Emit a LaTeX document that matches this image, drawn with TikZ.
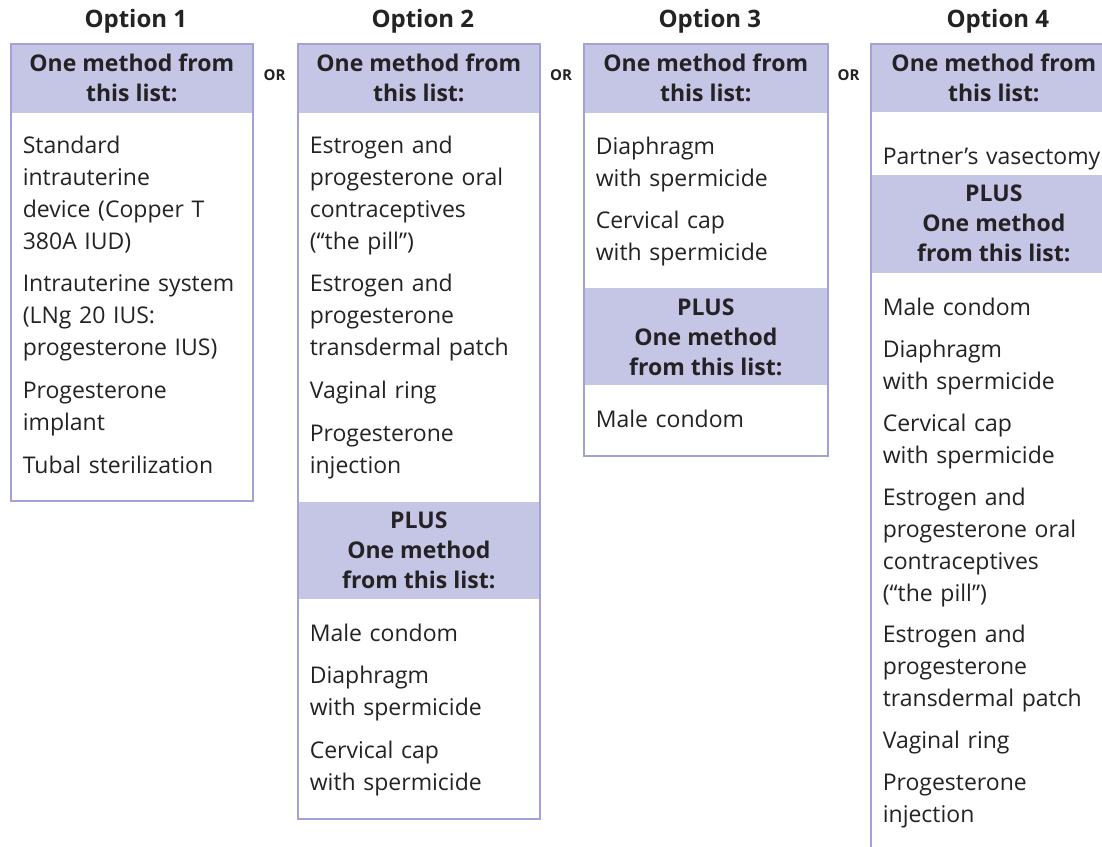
\documentclass[tikz,border=0pt]{standalone}
\usepackage{fontspec}
\setmainfont{Open Sans}
\usepackage{xcolor}
\usepackage{tikz}
\usetikzlibrary{positioning,backgrounds}
\definecolor{headfill}{RGB}{197,197,230}
\definecolor{boxline}{RGB}{162,162,214}
\definecolor{txt}{RGB}{36,34,36}
% fixed line struts for the list items
\newcommand{\itemstrut}{\rule[-9.6pt]{0pt}{32pt}}
\tikzset{%Global config
	x=1pt, y=1pt,
	%Styles
	Title/.style={
		font=\bfseries\fontsize{24}{28}\selectfont,
		text=txt,
		inner sep=0pt,
		xshift=4pt,
	},
	Or/.style={
		font=\bfseries\fontsize{15}{17}\selectfont,
		text=txt,
		inner sep=0pt,
	},
	Box/.style={
		draw=boxline,
		line width=1.6pt,
		anchor=north west,
		minimum width=242pt,
		inner sep=0pt,
	},
	Head/.style={
		fill=headfill,
		minimum width=242pt,
		align=center,
		font=\bfseries\fontsize{23}{30}\selectfont,
		text=txt,
		inner sep=0pt,
	},
	Item/.style={
		text width=228pt,
		align=left,
		font=\fontsize{23}{32}\selectfont,
		text=txt,
		inner sep=0pt,
		execute at begin node=\itemstrut,
		execute at end node=\itemstrut,
	},
}
\begin{document}
\begin{tikzpicture}
		\clip (0,0) rectangle (1102,-846);
		\begin{scope}[on background layer]
			\fill[white] (0,0) rectangle (1102,-846);
		\end{scope}
		% Boxes
		\node[Box, minimum height=457pt] (box1) at (10,-43) {};
		\node[Box, minimum height=775pt] (box2) at (297,-43) {};
		\node[Box, minimum width=244pt, minimum height=412pt] (box3) at (583,-43) {};
		\node[Box, minimum width=246pt, minimum height=830pt] (box4) at (870,-43) {};
		
		% Titles and OR
		\node[Title, above=10pt of box1.north] (t1) {Option 1};
		\node[Title, above=10pt of box2.north] (t2) {Option 2};
		\node[Title, above=10pt of box3.north] (t3) {Option 3};
		\node[Title, above=10pt of box4.north] (t4) {Option 4};
		\node[Or] (or1) at (274.5,-75) {OR};
		\node[Or] (or2) at (561,-75) {OR};
		\node[Or] (or3) at (848.5,-75) {OR};
		
		% Option 1
		\begin{scope}[on background layer]
			\node[Head, anchor=north, minimum height=70pt] (h1) at (box1.north) {One method from\\this list:};
		\end{scope}
		\node[Item, below right=17pt and 12pt of h1.south west] (i11) {Standard\\intrauterine\\device (Copper T\\380A IUD)};
		\node[Item, below right=10.5pt and 0pt of i11.south west] (i12) {Intrauterine system\\(LNg 20 IUS:\\progesterone IUS)};
		\node[Item, below right=10.5pt and 0pt of i12.south west] (i13) {Progesterone\\implant};
		\node[Item, below right=10.5pt and 0pt of i13.south west] (i14) {Tubal sterilization};
		
		% Option 2
		\begin{scope}[on background layer]
			\node[Head, anchor=north, minimum height=70pt] (h2) at (box2.north) {One method from\\this list:};
		\end{scope}
		\node[Item, below right=17pt and 12pt of h2.south west] (i21) {Estrogen and\\progesterone oral\\contraceptives\\(“the pill”)};
		\node[Item, below right=10.5pt and 0pt of i21.south west] (i22) {Estrogen and\\progesterone\\transdermal patch};
		\node[Item, below right=10.5pt and 0pt of i22.south west] (i23) {Vaginal ring};
		\node[Item, below right=10.5pt and 0pt of i23.south west] (i24) {Progesterone\\injection};
		\begin{scope}[on background layer]
			\node[Head, below right=18.5pt and -12pt of i24.south west, minimum height=97pt] (p2) {PLUS\\One method\\from this list:};
		\end{scope}
		\node[Item, below right=19pt and 12pt of p2.south west] (i25) {Male condom};
		\node[Item, below right=10.5pt and 0pt of i25.south west] (i26) {Diaphragm\\with spermicide};
		\node[Item, below right=10.5pt and 0pt of i26.south west] (i27) {Cervical cap\\with spermicide};
		
		% Option 3
		\begin{scope}[on background layer]
			\node[Head, anchor=north, minimum width=244pt, minimum height=70pt] (h3) at (box3.north) {One method from\\this list:};
		\end{scope}
		\node[Item, below right=18pt and 12pt of h3.south west] (i31) {Diaphragm\\with spermicide};
		\node[Item, below right=10.5pt and 0pt of i31.south west] (i32) {Cervical cap\\with spermicide};
		\begin{scope}[on background layer]
			\node[Head, below right=17.5pt and -12pt of i32.south west, minimum width=244pt, minimum height=97pt] (p3) {PLUS\\One method\\from this list:};
		\end{scope}
		\node[Item, below right=19pt and 12pt of p3.south west] (i33) {Male condom};
		
		% Option 4
		\begin{scope}[on background layer]
			\node[Head, anchor=north, minimum width=246pt, minimum height=69pt] (h4) at (box4.north) {One method from\\this list:};
		\end{scope}
		\node[Item, below right=29pt and 12pt of h4.south west] (i41) {Partner’s vasectomy};
		\begin{scope}[on background layer]
			\node[Head, below right=0.5pt and -12pt of i41.south west, minimum width=246pt, minimum height=98pt] (p4) {PLUS\\One method\\from this list:};
		\end{scope}
		\node[Item, below right=20pt and 12pt of p4.south west] (i42) {Male condom};
		\node[Item, below right=9.5pt and 0pt of i42.south west] (i43) {Diaphragm\\with spermicide};
		\node[Item, below right=9.5pt and 0pt of i43.south west] (i44) {Cervical cap\\with spermicide};
		\node[Item, below right=9.5pt and 0pt of i44.south west] (i45) {Estrogen and\\progesterone oral\\contraceptives\\(“the pill”)};
		\node[Item, below right=9.5pt and 0pt of i45.south west] (i46) {Estrogen and\\progesterone\\transdermal patch};
		\node[Item, below right=9.5pt and 0pt of i46.south west] (i47) {Vaginal ring};
		\node[Item, below right=9.5pt and 0pt of i47.south west] (i48) {Progesterone\\injection};
	\end{tikzpicture}
\end{document}
